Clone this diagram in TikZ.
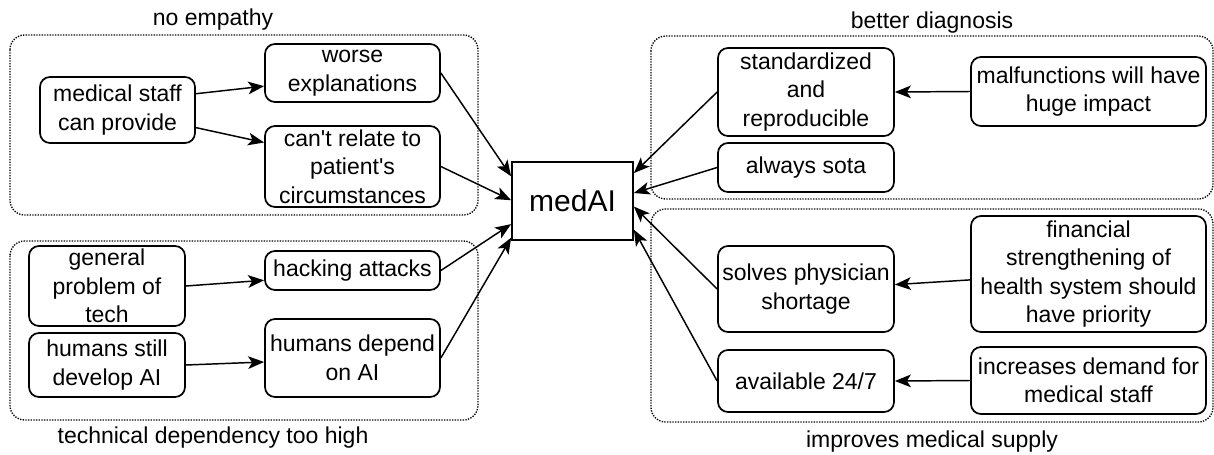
\documentclass[tikz,border=0pt]{standalone}
\usepackage{fontspec}
\setmainfont{Liberation Sans}
\usetikzlibrary{arrows.meta,calc}
\tikzset{
  txt/.style={font=\fontsize{17.25}{21.4}\selectfont},
  box/.style n args={2}{draw, line width=1.3pt, rounded corners=7.5pt, align=center,
    inner sep=0pt, minimum width=#1*0.75pt, minimum height=#2*0.75pt, txt},
  core/.style={draw, line width=1.3pt, inner sep=0pt, minimum width=121*0.75pt,
    minimum height=78*0.75pt, font=\fontsize{22.5}{27}\selectfont},
  grp/.style={draw, line width=1pt, dash pattern=on 1pt off 1pt, rounded corners=11pt},
  grplabel/.style={txt, anchor=base, inner sep=0pt},
  arr/.style={draw, line width=1.1pt, -{Stealth[length=12pt, width=9.5pt, inset=3pt]}},
}
\begin{document}
\begin{tikzpicture}[x=0.75pt, y=-0.75pt]
\useasboundingbox (0,0) rectangle (1214,454);

% group frames
\draw[grp] (10,35) rectangle (478,215);
\draw[grp] (10,241) rectangle (478,420);
\draw[grp] (651,36) rectangle (1213,199);
\draw[grp] (651,209) rectangle (1213,422);
\node[grplabel] (l1) at (213,25) {no empathy};
\node[grplabel] (l2) at (213,443) {technical dependency too high};
\node[grplabel] (l3) at (932,28) {better diagnosis};
\node[grplabel] (l4) at (932,447) {improves medical supply};

% central node
\node[core] (m) at (572.5,201) {medAI};

% left side
\node[box={155}{66}]  (msc)    at (117.5,110) {medical staff\\can provide};
\node[box={175}{58}]  (worse)  at (352.5,73)  {worse\\explanations};
\node[box={175}{81}]  (relate) at (352.5,166.5) {can\textquotesingle t relate to\\patient\textquotesingle s\\circumstances};
\node[box={156}{80}]  (gpt)    at (107,286)   {general\\problem of\\tech};
\node[box={175}{39}]  (hack)   at (352.5,270.5) {hacking attacks};
\node[box={156}{64}]  (hsd)    at (107,365)   {humans still\\develop AI};
\node[box={175}{78}]  (hdep)   at (352.5,358) {humans depend\\on AI};

% right side
\node[box={176}{88}]  (std)    at (806,92)    {standardized\\and\\reproducible};
\node[box={176}{49}]  (sota)   at (806,167.5) {always sota};
\node[box={235}{69}]  (malf)   at (1088.5,91.5) {malfunctions will have\\huge impact};
\node[box={176}{86}]  (solves) at (806,289)   {solves physician\\shortage};
\node[box={176}{62}]  (avail)  at (806,381)   {available 24/7};
\node[box={235}{116}] (fin)    at (1088.5,274) {financial\\strengthening of\\health system should\\have priority};
\node[box={235}{67}]  (incr)   at (1088.5,380.5) {increases demand for\\medical staff};

% connectors, left
\draw[arr] ($(msc.north east)!0.26!(msc.south east)$) -- ($(worse.north west)!0.72!(worse.south west)$);
\draw[arr] ($(msc.north east)!0.76!(msc.south east)$) -- ($(relate.north west)!0.21!(relate.south west)$);
\draw[arr] (gpt.east) -- ($(hack.north west)!0.74!(hack.south west)$);
\draw[arr] (hsd.east) -- ($(hdep.north west)!0.55!(hdep.south west)$);
\draw[arr] (worse.east)  -- ($(m.north west)!0.19!(m.south west)$);
\draw[arr] (relate.east) -- ($(m.north west)!0.49!(m.south west)$);
\draw[arr] (hack.east)   -- ($(m.north west)!0.79!(m.south west)$);
\draw[arr] (hdep.east)   -- ($(m.north west)!0.96!(m.south west)$);

% connectors, right
\draw[arr] (std.west)    -- ($(m.north east)!0.15!(m.south east)$);
\draw[arr] (sota.west)   -- ($(m.north east)!0.40!(m.south east)$);
\draw[arr] (solves.west) -- ($(m.north east)!0.57!(m.south east)$);
\draw[arr] (avail.west)  -- ($(m.north east)!0.86!(m.south east)$);
\draw[arr] (malf.west) -- (std.east);
\draw[arr] ($(fin.north west)!0.55!(fin.south west)$) -- ($(solves.north east)!0.45!(solves.south east)$);
\draw[arr] (incr.west) -- (avail.east);
\end{tikzpicture}
\end{document}
